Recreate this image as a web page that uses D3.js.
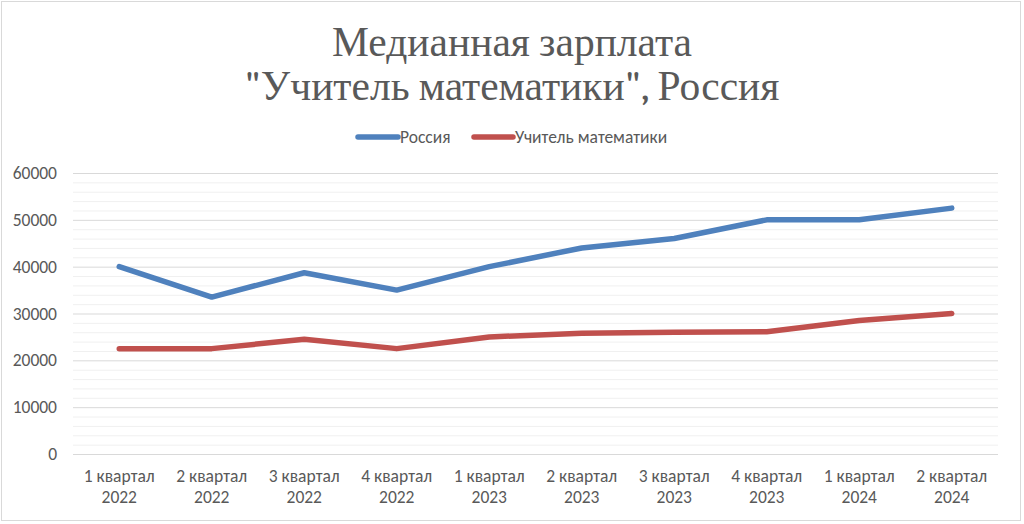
<!DOCTYPE html>
<html><head><meta charset="utf-8">
<script src="https://cdn.jsdelivr.net/npm/d3@7"></script>
<style>body{margin:0;background:#fff}svg{display:block}</style>
</head><body>
<svg id="c" width="1024" height="524"></svg>
<script>
const categories = ["1 квартал|2022","2 квартал|2022","3 квартал|2022","4 квартал|2022","1 квартал|2023","2 квартал|2023","3 квартал|2023","4 квартал|2023","1 квартал|2024","2 квартал|2024"];
const russia = [40000,33500,38700,35000,40000,44000,46000,50000,50000,52500];
const teacher = [22500,22500,24500,22500,25000,25800,26000,26100,28500,30000];
const yTicks = [0,10000,20000,30000,40000,50000,60000];
const seriesNames = ["Россия","Учитель математики"];
const colors = ["#4f81bd","#c0504d"];
const titleLines = ["Медианная зарплата","\"Учитель математики\", Россия"];

const svg = d3.select("#c");
const font = "Carlito, 'Open Sans', sans-serif";
const lfs = 17.5;
svg.append("rect").attr("x",1.5).attr("y",1.5).attr("width",1019).attr("height",519).attr("fill","#fff").attr("stroke","#d9d9d9");

const L=73,R=998,T=173,B=454;
const x = d3.scaleBand().domain(d3.range(categories.length)).range([L,R]);
const y = d3.scaleLinear().domain([0,60000]).range([B,T]);

const minor = d3.range(0,60001,2000).filter(v=>v%10000!==0);
svg.append("g").selectAll("line").data(minor).join("line")
 .attr("x1",L).attr("x2",R).attr("y1",d=>y(d)+0.5).attr("y2",d=>y(d)+0.5)
 .attr("stroke","#f0f0f0").attr("stroke-width",1);
svg.append("g").selectAll("line").data(yTicks).join("line")
 .attr("x1",L).attr("x2",R).attr("y1",d=>y(d)+0.5).attr("y2",d=>y(d)+0.5)
 .attr("stroke","#d9d9d9").attr("stroke-width",1);

const yAxis = d3.axisLeft(y).tickValues(yTicks).tickSize(0).tickPadding(16).tickFormat(d=>String(d));
const ga = svg.append("g").attr("transform",`translate(${L},0)`).call(yAxis);
ga.select(".domain").remove();
ga.selectAll("text").attr("font-family",font).attr("font-size",lfs).attr("fill","#595959");

const xAxis = d3.axisBottom(x).tickSize(0).tickFormat(()=> "");
const gx = svg.append("g").attr("transform",`translate(0,${B})`).call(xAxis);
gx.select(".domain").remove();
gx.selectAll(".tick text").remove();
gx.selectAll(".tick").each(function(d){
  const parts = categories[d].split("|");
  d3.select(this).selectAll("text.lbl").data(parts).join("text").attr("class","lbl")
    .attr("x",0).attr("y",(p,i)=>28+i*21).attr("text-anchor","middle")
    .attr("font-family",font).attr("font-size",lfs).attr("fill","#595959").text(p=>p);
});

const line = d3.line().x((d,i)=>x(i)+x.bandwidth()/2).y(d=>y(d));
[russia,teacher].forEach((s,k)=>{
  svg.append("path").datum(s).attr("d",line).attr("fill","none")
   .attr("stroke",colors[k]).attr("stroke-width",5.5).attr("stroke-linecap","round").attr("stroke-linejoin","round");
});

const leg = [{x1:358,x2:398,tx:400},{x1:474,x2:513,tx:515}];
seriesNames.forEach((n,k)=>{
  svg.append("line").attr("x1",leg[k].x1).attr("x2",leg[k].x2).attr("y1",137).attr("y2",137)
   .attr("stroke",colors[k]).attr("stroke-width",5.5).attr("stroke-linecap","round");
  svg.append("text").attr("x",leg[k].tx).attr("y",143).attr("font-family",font).attr("font-size",lfs).attr("fill","#595959").text(n);
});

const titles = svg.selectAll(".title").data(titleLines).join("text").attr("class","title")
 .attr("x",512).attr("y",(d,i)=>56+i*44).attr("text-anchor","middle")
 .attr("font-family","Caladea, 'Liberation Serif', serif").attr("font-size",40).attr("fill","#595959").text(d=>d);
const w = titles.nodes()[1].getComputedTextLength();
titles.attr("font-size",40*535/w);
</script>
</body></html>
